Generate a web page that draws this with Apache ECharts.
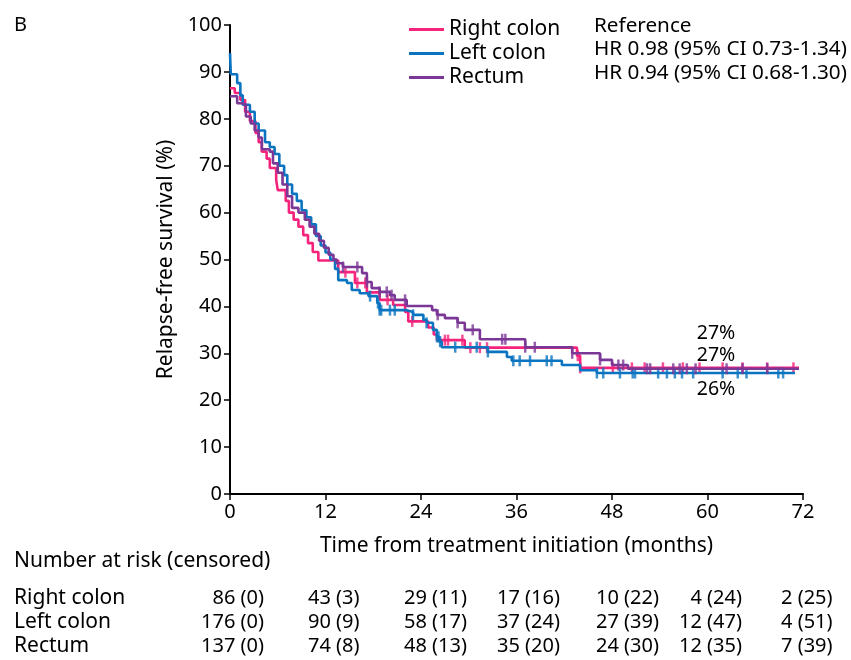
<!DOCTYPE html>
<html>
<head>
<meta charset="utf-8">
<script src="https://cdn.jsdelivr.net/npm/echarts@6/dist/echarts.min.js"></script>
<style>html,body{margin:0;padding:0;background:#fff;}#c{width:851px;height:660px;}</style>
</head>
<body>
<div id="c"></div>
<script>
// ---- Data ----
const seriesNames = ['Right colon', 'Left colon', 'Rectum'];
const xTicks = [0, 12, 24, 36, 48, 60, 72];

const rightColon = [[0,86.5],[0.6,85.5],[1.3,84],[1.9,81.5],[2.5,79.5],[3.2,77],[3.6,75],[4,73],[4.6,71.5],[5,69.5],[5.8,67],[6,64.8],[7,62.5],[7.4,60],[8,58.5],[8.6,57],[9.2,55.2],[9.8,53.5],[10.4,51.6],[11.1,49.8],[13.6,47.3],[15.7,45],[17.2,43],[18.8,41.4],[20.5,40.3],[22,38.8],[22.4,36.8],[24.9,35.5],[25.6,34],[26,32.8],[29.5,31.2],[43.6,29.5],[44,26.9],[71.5,26.9]];
const leftColon = [[0,94],[0.1,89.5],[0.9,87.6],[1.3,85],[1.6,83],[2.5,81.5],[3.1,79],[3.6,77.5],[4.4,75],[5,74],[5.6,72.5],[6.2,70],[6.8,68],[7.2,66],[7.8,64],[8.4,62.5],[9,60.5],[9.6,59],[10.2,57.5],[10.8,55],[11.4,53],[12,51.5],[12.6,50],[13.2,48],[13.6,45.6],[14.7,45],[15.3,43.5],[16.3,42.8],[17.4,42.2],[18.5,40.7],[18.8,39.2],[22.2,38.8],[23,38.2],[24.3,37.1],[24.7,36.5],[25.5,35],[26,33.5],[26.3,32.5],[26.6,31.3],[32.4,30.3],[34.8,29.2],[35.4,28.4],[41.7,27.5],[44,26.4],[46.1,25.8],[71,25.8]];
const rectum = [[0,84.8],[0.9,83.3],[1.5,83],[2,80.5],[2.6,79],[3.1,77.5],[3.6,76],[4,73.5],[5,73],[5.4,70.5],[6,68.5],[6.6,66],[7.2,63.5],[7.8,61],[8.6,60],[9.4,58.5],[10,57],[10.6,55.5],[11.2,54],[11.8,52.5],[12.4,51],[13,50],[13.4,49.2],[14.2,48.4],[16.6,47.1],[17.2,45.2],[17.8,43.9],[18.8,43.1],[20.1,42.4],[20.7,41.4],[22.2,40.1],[25.4,39.2],[26,38.2],[27,37.5],[28.6,36.5],[29.5,35],[31.4,33],[37.1,31.3],[43,30],[46.5,28.6],[48,27.5],[50,26.7],[71.5,26.7]];

const rightCensor = [14.5,16,17,19.8,22.9,27.0,27.4,29.2,30.2,31.4,32.3,43.7,44.0,48.1,50.5,52.1,54.4,56.9,59.0,61.9,64.4,67.5,70.8];
const leftCensor = [17.6,18.6,18.8,19.0,20.1,20.7,23.0,24.7,26.0,26.2,26.4,28.3,31.0,32.4,35.6,36.4,37.7,39.8,40.4,46.1,46.9,49.0,50.6,50.9,53.8,54.9,55.9,56.8,58.2,61.9,63.8,64.9,68.9,69.5];
const rectumCensor = [14.2,16.0,17.2,18.8,19.7,20.3,22.0,26.1,28.6,30.5,34.2,34.6,37.1,38.3,43.0,46.5,48.8,49.4,52.4,52.8,55.7,56.5,57.4,58.5,62.4,64.4,67.5];

const hrTexts = ['Reference', 'HR 0.98 (95% CI 0.73-1.34)', 'HR 0.94 (95% CI 0.68-1.30)'];
const endLabels = ['27%', '27%', '26%'];

const rightAtRisk = [86,43,29,17,10,4,2];
const rightCens = [0,3,11,16,22,24,25];
const leftAtRisk = [176,90,58,37,27,12,4];
const leftCens = [0,9,17,24,39,47,51];
const rectumAtRisk = [137,74,48,35,24,12,7];
const rectumCens = [0,8,13,20,30,35,39];

// ---- Build ----
const colors = ['#f5237c', '#0b74c0', '#7a3796'];
const FONT = 'Noto Sans';
function stepAt(curve, t) {
  let v = curve[0][1];
  for (const p of curve) { if (p[0] <= t) v = p[1]; else break; }
  return v;
}
const curves = [rightColon, leftColon, rectum];
const censors = [rightCensor, leftCensor, rectumCensor];

const series = [];
[1, 2, 0].forEach(i => {
  series.push({
    name: seriesNames[i], type: 'line', step: 'end', data: curves[i],
    showSymbol: false, lineStyle: { color: colors[i], width: 2.6 }, itemStyle: { color: colors[i] },
    z: 2 + i, silent: true
  });
  series.push({
    name: seriesNames[i], type: 'scatter', symbol: 'rect', symbolSize: [2.5, 11],
    data: censors[i].map(t => [t, stepAt(curves[i], t)]),
    itemStyle: { color: colors[i] }, z: 2 + i, silent: true
  });
});

const graphics = [];
function txt(x, y, s, align, size) {
  graphics.push({ type: 'text', x: x, y: y, style: { text: s, fill: '#000', font: (size || 20) + 'px "' + FONT + '"', textAlign: align || 'left', textVerticalAlign: 'middle' } });
}
txt(14, 25, 'B', 'left', 20);
hrTexts.forEach((s, k) => txt(594, 26 + k * 23.5, s, 'left', 20.7));
txt(716, 333, endLabels[0], 'center', 19.5);
txt(716, 355, endLabels[1], 'center', 19.5);
txt(716, 389, endLabels[2], 'center', 19.5);
txt(14, 561, 'Number at risk (censored)', 'left', 21);
const rows = [[rightAtRisk, rightCens], [leftAtRisk, leftCens], [rectumAtRisk, rectumCens]];
const colX = [264, 308, 404, 497, 596, 742, 781];
const colAlign = ['right', 'left', 'left', 'left', 'left', 'right', 'left'];
rows.forEach((r, k) => {
  const y = 598 + k * 24;
  txt(14, y, seriesNames[k], 'left', 21);
  r[0].forEach((n, j) => txt(colX[j], y, n + ' (' + r[1][j] + ')', colAlign[j], 20));
});

const chart = echarts.init(document.getElementById('c'), null, { renderer: 'canvas' });
chart.setOption({
  animation: false,
  backgroundColor: '#fff',
  textStyle: { fontFamily: FONT },
  grid: { left: 230, right: 48, top: 25, bottom: 166, containLabel: false },
  legend: {
    data: seriesNames.map(n => ({ name: n, icon: 'rect' })),
    orient: 'vertical', left: 404, top: 14, itemWidth: 35, itemHeight: 3, itemGap: 3,
    textStyle: { fontSize: 21, color: '#000', fontFamily: FONT, lineHeight: 20 },
    selectedMode: false
  },
  xAxis: {
    type: 'value', min: 0, max: 72, interval: 12,
    name: 'Time from treatment initiation (months)', nameLocation: 'middle', nameGap: 42,
    nameTextStyle: { fontSize: 21, color: '#000', fontFamily: FONT },
    axisLine: { lineStyle: { color: '#000', width: 2 } },
    axisTick: { show: true, length: 6, lineStyle: { color: '#000', width: 1.5 } },
    axisLabel: { fontSize: 20, color: '#000', margin: 8, fontFamily: FONT, customValues: xTicks },
    splitLine: { show: false }
  },
  yAxis: {
    type: 'value', min: 0, max: 100, interval: 10,
    name: 'Relapse-free survival (%)', nameLocation: 'middle', nameGap: 46,
    nameTextStyle: { fontSize: 21, color: '#000', fontFamily: FONT },
    axisLine: { show: true, lineStyle: { color: '#000', width: 2 } },
    axisTick: { show: true, length: 6, lineStyle: { color: '#000', width: 1.5 } },
    axisLabel: { fontSize: 20, color: '#000', margin: 8, fontFamily: FONT },
    splitLine: { show: false }
  },
  series: series,
  graphic: graphics
});
</script>
</body>
</html>
